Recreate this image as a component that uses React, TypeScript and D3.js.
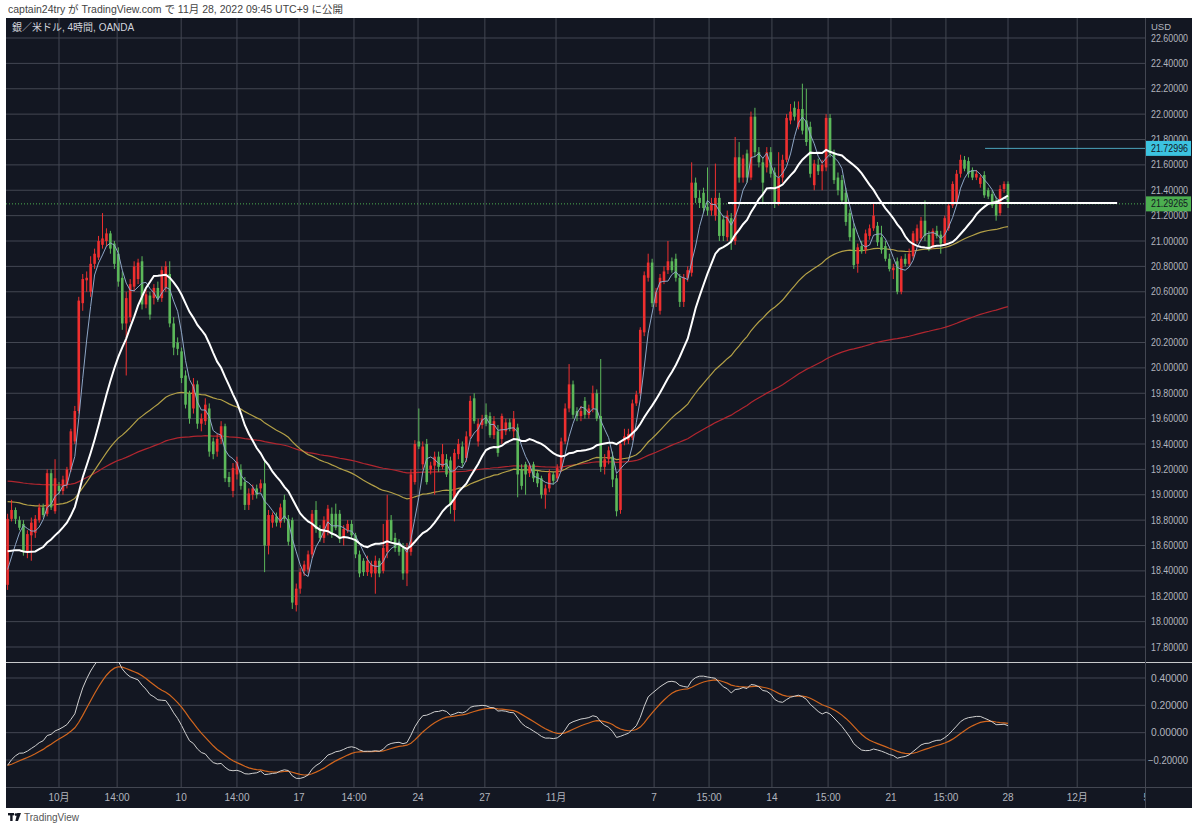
import React from "react";
import * as d3 from "d3";

// ---- DATA ----
// 4-hour candles, XAG/USD (OANDA): [open, high, low, close]
const candles: [number, number, number, number][] = [
  [18.29, 18.85, 18.25, 18.81], [18.81, 18.96, 18.79, 18.88], [18.88, 18.9, 18.77, 18.81], [18.8, 18.83, 18.72, 18.74],
  [18.77, 18.8, 18.52, 18.55], [18.55, 18.72, 18.5, 18.69], [18.68, 18.82, 18.48, 18.78], [18.7, 18.84, 18.66, 18.81],
  [18.8, 18.93, 18.78, 18.9], [18.9, 18.93, 18.82, 18.84], [18.85, 19.2, 18.83, 19.17], [19.17, 19.2, 18.88, 18.9],
  [18.87, 19.28, 18.85, 19.13], [19.07, 19.1, 19.0, 19.03], [19.03, 19.15, 19.0, 19.12], [19.08, 19.22, 19.05, 19.2],
  [19.2, 19.52, 19.18, 19.5], [19.42, 19.7, 19.4, 19.66], [19.66, 20.56, 19.64, 20.53], [20.51, 20.74, 20.45, 20.7],
  [20.69, 20.76, 20.6, 20.71], [20.6, 20.88, 20.56, 20.82], [20.82, 20.94, 20.78, 20.9], [20.87, 21.04, 20.85, 21.0],
  [20.97, 21.22, 20.94, 21.02], [21.0, 21.1, 20.96, 21.06], [21.06, 21.08, 20.9, 20.94], [20.98, 21.0, 20.78, 20.82],
  [20.9, 20.95, 20.64, 20.68], [20.71, 20.76, 20.3, 20.35], [20.35, 20.6, 19.94, 20.55], [20.4, 20.7, 20.36, 20.66],
  [20.64, 20.84, 20.6, 20.8], [20.7, 20.86, 20.66, 20.83], [20.84, 20.88, 20.46, 20.5], [20.5, 20.62, 20.47, 20.58],
  [20.57, 20.6, 20.38, 20.42], [20.55, 20.66, 20.5, 20.63], [20.63, 20.68, 20.52, 20.55], [20.55, 20.8, 20.52, 20.77],
  [20.63, 20.84, 20.6, 20.8], [20.74, 20.84, 20.32, 20.35], [20.35, 20.4, 20.1, 20.16], [20.2, 20.24, 20.1, 20.15],
  [20.13, 20.16, 19.88, 19.92], [19.94, 19.98, 19.68, 19.71], [19.8, 19.82, 19.56, 19.6], [19.68, 19.92, 19.64, 19.87],
  [19.87, 19.9, 19.52, 19.56], [19.56, 19.64, 19.5, 19.6], [19.58, 19.76, 19.55, 19.71], [19.68, 19.72, 19.3, 19.34],
  [19.42, 19.45, 19.28, 19.32], [19.34, 19.48, 19.3, 19.44], [19.44, 19.58, 19.4, 19.54], [19.54, 19.56, 19.1, 19.13],
  [19.14, 19.18, 19.06, 19.1], [19.03, 19.25, 18.98, 19.21], [19.16, 19.3, 19.12, 19.26], [19.2, 19.24, 19.04, 19.07],
  [19.1, 19.14, 18.88, 18.92], [18.92, 19.05, 18.88, 19.01], [19.0, 19.08, 18.96, 19.05], [19.05, 19.08, 18.97, 19.0],
  [19.05, 19.12, 19.02, 19.09], [19.09, 19.28, 18.39, 18.6], [18.6, 18.88, 18.53, 18.84], [18.78, 18.86, 18.74, 18.84],
  [18.83, 18.86, 18.75, 18.78], [18.78, 18.93, 18.74, 18.9], [18.96, 19.0, 18.78, 18.81], [18.81, 18.84, 18.6, 18.63],
  [18.8, 18.82, 18.1, 18.15], [18.13, 18.3, 18.08, 18.26], [18.26, 18.42, 18.22, 18.39], [18.4, 18.48, 18.36, 18.45],
  [18.41, 18.56, 18.38, 18.53], [18.53, 18.88, 18.5, 18.85], [18.88, 18.95, 18.7, 18.73], [18.73, 18.76, 18.63, 18.66],
  [18.66, 18.83, 18.62, 18.8], [18.71, 18.92, 18.68, 18.89], [18.85, 18.9, 18.66, 18.69], [18.85, 18.93, 18.72, 18.74],
  [18.85, 18.88, 18.62, 18.65], [18.66, 18.76, 18.6, 18.73], [18.72, 18.8, 18.7, 18.77], [18.77, 18.8, 18.66, 18.68],
  [18.68, 18.7, 18.5, 18.53], [18.53, 18.56, 18.35, 18.38], [18.48, 18.5, 18.36, 18.39], [18.39, 18.52, 18.36, 18.48],
  [18.38, 18.48, 18.35, 18.45], [18.38, 18.52, 18.22, 18.48], [18.48, 18.5, 18.35, 18.38], [18.4, 18.77, 18.38, 18.58],
  [18.55, 19.0, 18.5, 18.8], [18.8, 18.84, 18.62, 18.64], [18.66, 18.7, 18.55, 18.58], [18.62, 18.65, 18.52, 18.55],
  [18.58, 18.62, 18.33, 18.38], [18.38, 18.62, 18.28, 18.58], [18.55, 19.2, 18.52, 19.16], [19.1, 19.43, 19.08, 19.4],
  [19.42, 19.68, 19.36, 19.38], [19.24, 19.42, 19.2, 19.38], [19.4, 19.44, 19.08, 19.1], [19.2, 19.26, 19.16, 19.23],
  [19.23, 19.34, 19.0, 19.3], [19.3, 19.34, 19.18, 19.22], [19.22, 19.4, 19.2, 19.32], [19.28, 19.32, 19.14, 19.16],
  [19.27, 19.3, 18.85, 18.92], [18.88, 19.36, 18.79, 19.33], [19.32, 19.44, 19.28, 19.4], [19.38, 19.42, 19.22, 19.25],
  [19.29, 19.5, 19.26, 19.46], [19.46, 19.78, 19.44, 19.74], [19.76, 19.8, 19.56, 19.58], [19.42, 19.6, 19.38, 19.56],
  [19.55, 19.63, 19.52, 19.6], [19.63, 19.72, 19.54, 19.56], [19.62, 19.65, 19.45, 19.47], [19.47, 19.62, 19.44, 19.58],
  [19.5, 19.55, 19.3, 19.33], [19.44, 19.64, 19.4, 19.62], [19.5, 19.6, 19.47, 19.57], [19.57, 19.6, 19.5, 19.52],
  [19.5, 19.66, 19.45, 19.6], [19.53, 19.56, 18.98, 19.16], [19.2, 19.24, 19.04, 19.07], [19.24, 19.26, 19.0, 19.16],
  [19.17, 19.25, 19.14, 19.22], [19.24, 19.26, 19.1, 19.13], [19.17, 19.19, 19.06, 19.09], [19.13, 19.15, 18.97, 19.0],
  [19.0, 19.08, 18.89, 19.05], [19.05, 19.2, 19.02, 19.17], [19.16, 19.18, 19.08, 19.11], [19.13, 19.24, 19.1, 19.21],
  [19.2, 19.45, 19.18, 19.42], [19.42, 19.72, 19.4, 19.68], [19.68, 20.03, 19.65, 19.87], [19.87, 19.9, 19.6, 19.63],
  [19.66, 19.69, 19.58, 19.62], [19.62, 19.7, 19.58, 19.66], [19.74, 19.77, 19.6, 19.63], [19.63, 19.71, 19.6, 19.68],
  [19.68, 19.86, 19.65, 19.8], [19.8, 19.83, 19.58, 19.6], [19.62, 20.07, 19.18, 19.22], [19.22, 19.32, 19.16, 19.28],
  [19.28, 19.38, 19.24, 19.35], [19.3, 19.34, 19.06, 19.12], [19.13, 19.16, 18.83, 18.87], [18.88, 19.42, 18.85, 19.4],
  [19.42, 19.52, 19.39, 19.46], [19.43, 19.52, 19.4, 19.48], [19.45, 19.75, 19.43, 19.72], [19.72, 19.82, 19.7, 19.79],
  [19.8, 20.32, 19.78, 20.3], [20.28, 20.76, 20.25, 20.73], [20.71, 20.9, 20.68, 20.83], [20.83, 20.86, 20.48, 20.51],
  [20.51, 20.63, 20.48, 20.6], [20.45, 20.74, 20.42, 20.71], [20.68, 20.8, 20.66, 20.76], [20.77, 21.0, 20.74, 20.84],
  [20.84, 20.87, 20.75, 20.77], [20.86, 20.9, 20.68, 20.71], [20.71, 20.74, 20.48, 20.52], [20.52, 20.74, 20.48, 20.71],
  [20.71, 20.8, 20.68, 20.77], [20.75, 21.62, 20.72, 21.46], [21.46, 21.5, 21.3, 21.34], [21.34, 21.4, 21.26, 21.3],
  [21.38, 21.42, 21.22, 21.26], [21.27, 21.58, 21.2, 21.24], [21.24, 21.34, 21.2, 21.3], [21.2, 21.61, 21.16, 21.34],
  [21.34, 21.38, 21.0, 21.04], [21.17, 21.2, 21.0, 21.04], [21.03, 21.24, 21.0, 21.2], [21.18, 21.22, 20.93, 21.0],
  [21.0, 21.82, 20.97, 21.66], [21.66, 21.78, 21.46, 21.5], [21.5, 21.68, 21.46, 21.65], [21.69, 21.72, 21.46, 21.5],
  [21.5, 22.02, 21.48, 21.98], [21.98, 22.05, 21.66, 21.7], [21.7, 21.74, 21.58, 21.62], [21.62, 21.66, 21.3, 21.46],
  [21.58, 21.74, 21.54, 21.7], [21.7, 21.74, 21.5, 21.53], [21.54, 21.58, 21.26, 21.3], [21.3, 21.7, 21.28, 21.5],
  [21.5, 21.68, 21.46, 21.64], [21.64, 22.0, 21.62, 21.97], [21.95, 22.08, 21.92, 22.02], [22.05, 22.1, 21.95, 21.98],
  [21.9, 22.1, 21.88, 22.04], [22.04, 22.24, 21.84, 21.87], [21.95, 22.2, 21.75, 21.78], [21.9, 21.94, 21.5, 21.53],
  [21.44, 21.64, 21.4, 21.61], [21.6, 21.65, 21.52, 21.55], [21.55, 21.64, 21.4, 21.6], [21.58, 22.0, 21.55, 21.97],
  [21.97, 22.0, 21.66, 21.69], [21.69, 21.72, 21.45, 21.48], [21.5, 21.54, 21.36, 21.4], [21.48, 21.52, 21.3, 21.32],
  [21.38, 21.42, 21.12, 21.15], [21.22, 21.25, 21.0, 21.03], [21.1, 21.14, 20.78, 20.81], [20.82, 20.98, 20.75, 20.95],
  [20.96, 21.0, 20.9, 20.92], [20.93, 21.09, 20.9, 21.06], [21.04, 21.13, 21.01, 21.1], [21.1, 21.3, 21.08, 21.2],
  [21.12, 21.15, 20.96, 20.99], [21.03, 21.12, 20.9, 20.93], [20.96, 21.0, 20.84, 20.86], [20.86, 20.9, 20.76, 20.78],
  [20.77, 20.82, 20.7, 20.79], [20.84, 20.87, 20.58, 20.6], [20.6, 20.88, 20.58, 20.86], [20.86, 20.9, 20.8, 20.82],
  [20.82, 20.94, 20.8, 20.9], [20.88, 21.08, 20.86, 21.06], [21.0, 21.13, 20.98, 21.1], [21.02, 21.19, 21.0, 21.16],
  [21.16, 21.32, 21.0, 21.04], [21.05, 21.08, 20.92, 20.95], [20.96, 21.1, 20.94, 21.08], [21.08, 21.12, 21.02, 21.04],
  [21.05, 21.08, 20.9, 20.98], [20.98, 21.2, 20.96, 21.18], [21.1, 21.3, 21.08, 21.28], [21.28, 21.47, 21.26, 21.45],
  [21.3, 21.56, 21.28, 21.53], [21.53, 21.68, 21.5, 21.64], [21.64, 21.67, 21.55, 21.57], [21.63, 21.66, 21.5, 21.53],
  [21.56, 21.58, 21.48, 21.5], [21.5, 21.56, 21.48, 21.53], [21.45, 21.52, 21.42, 21.5], [21.52, 21.55, 21.34, 21.36],
  [21.4, 21.42, 21.33, 21.35], [21.37, 21.4, 21.26, 21.28], [21.32, 21.35, 21.16, 21.2], [21.22, 21.44, 21.2, 21.41],
  [21.41, 21.47, 21.38, 21.45], [21.45, 21.47, 21.26, 21.29265],
];

// closes of the bars just before the visible window (needed to start the SMAs)
const priorCloses = [18.78, 18.72, 18.76, 18.74, 18.79, 18.73, 18.75, 18.55, 18.5, 18.46,
  18.42, 18.48, 18.45, 18.44, 18.46, 18.38, 18.32, 18.28, 18.26];

// indicator settings and starting values read at the left edge
const smaFastLen = 5;
const smaMidLen = 20;
const emaSlowLen = 75;
const emaSlowSeed = 18.95;
const emaLongLen = 200;
const emaLongSeed = 19.11;
const macdFastSeed = 18.55;
const macdSlowSeed = 18.83;
const macdSignalSeed = -0.24;

const priceTicks = [17.8, 18.0, 18.2, 18.4, 18.6, 18.8, 19.0, 19.2, 19.4, 19.6, 19.8, 20.0, 20.2, 20.4,
  20.6, 20.8, 21.0, 21.2, 21.4, 21.6, 21.8, 22.0, 22.2, 22.4, 22.6];
const macdTicks = [-0.2, 0.0, 0.2, 0.4];
const timeTickLabels = ["10月", "14:00", "10", "14:00", "17", "14:00", "24", "27", "11月", "7", "15:00",
  "14", "15:00", "21", "15:00", "28", "12月", "5"];
const timeTickBars = [13, 27.7, 43.9, 58, 73.7, 87.6, 103.8, 120.7, 138.7, 163.5, 177.4, 193.3, 207.5,
  223.4, 237.3, 253, 270.5, 288];

const drawnLevel = { price: 21.3, fromBar: 182.2, toBar: 280.6 };
const alertLevel = { price: 21.72996, fromBar: 247.2 };

// ---- STYLE ----
const BG = "#131722";
const GRID = "#434752";
const AXIS_TEXT = "#b2b5be";
const UP = "#ee2f2f";
const DOWN = "#5cb85a";
const FONT = "'Liberation Sans', 'Noto Sans CJK JP', sans-serif";

const L = 6, R = 1192, TOP = 18, PANE_R = 1145, SEP = 662.5, LOW_B = 787, BOT = 808;

function sma(all: number[], offset: number, n: number, count: number) {
  const out: number[] = [];
  for (let i = 0; i < count; i++) {
    const end = offset + i;
    const win = all.slice(end - n + 1, end + 1);
    out.push(d3.mean(win) as number);
  }
  return out;
}
function ema(values: number[], n: number, seed: number) {
  const k = 2 / (n + 1);
  let e = seed;
  return values.map((v) => (e = e + (v - e) * k));
}

export default function App() {
  const closes = candles.map((c) => c[3]);
  const all = [...priorCloses, ...closes];
  const off = priorCloses.length;
  const fast = sma(all, off, smaFastLen, closes.length);
  const mid = sma(all, off, smaMidLen, closes.length);
  const slow = ema(closes, emaSlowLen, emaSlowSeed);
  const long = ema(closes, emaLongLen, emaLongSeed);
  const e12 = ema(closes, 12, macdFastSeed);
  const e26 = ema(closes, 26, macdSlowSeed);
  const macd = e12.map((v, i) => v - e26[i]);
  const signal = ema(macd, 9, macdSignalSeed);

  const x = d3.scaleLinear().domain([0, 253]).range([7.6, 1008]);
  const y = d3.scaleLinear().domain([17.8, 22.6]).range([647, 38]);
  const ym = d3.scaleLinear().domain([-0.2, 0.4]).range([760, 678]);

  const lineP = (vals: number[]) =>
    d3.line<number>().x((_, i) => x(i)).y((v) => y(v)).curve(d3.curveLinear)(vals) as string;
  const lineM = (vals: number[]) =>
    d3.line<number>().x((_, i) => x(i)).y((v) => ym(v))(vals) as string;

  const last = closes[closes.length - 1];
  const fmt = d3.format(".5f");

  return (
    <svg width={1200} height={831} style={{ position: "absolute", left: 0, top: 0, background: "#ffffff" }}
      fontFamily={FONT}>
      <defs>
        <clipPath id="mainClip"><rect x={L} y={TOP} width={PANE_R - L} height={SEP - TOP} /></clipPath>
        <clipPath id="lowClip"><rect x={L} y={SEP + 0.5} width={PANE_R - L} height={LOW_B - SEP - 0.5} /></clipPath>
        <clipPath id="timeClip"><rect x={L} y={LOW_B} width={PANE_R - L} height={BOT - LOW_B} /></clipPath>
      </defs>

      {/* header */}
      <text x={8} y={13} fontSize={10.5} fill="#444" fontFamily={FONT}>
        captain24try が TradingView.com で 11月 28, 2022 09:45 UTC+9 に公開
      </text>

      <rect x={L} y={TOP} width={R - L} height={BOT - TOP} fill={BG} />

      {/* grid */}
      {priceTicks.map((p) => (
        <line key={"pg" + p} x1={L} x2={PANE_R} y1={y(p)} y2={y(p)} stroke={GRID} strokeWidth={1} />
      ))}
      {macdTicks.map((p) => (
        <line key={"mg" + p} x1={L} x2={PANE_R} y1={ym(p)} y2={ym(p)} stroke={GRID} strokeWidth={1} />
      ))}
      {timeTickBars.map((b, i) =>
        x(b) < PANE_R ? (
          <line key={"vg" + i} x1={x(b)} x2={x(b)} y1={TOP} y2={LOW_B} stroke={GRID} strokeWidth={1} />
        ) : null
      )}

      {/* title */}
      <text x={12} y={31} fontSize={10} fill="#d1d4dc">銀／米ドル, 4時間, OANDA</text>

      {/* main pane */}
      <g clipPath="url(#mainClip)">
        <line x1={L} x2={PANE_R} y1={y(last)} y2={y(last)} stroke="#4caf50" strokeWidth={1} strokeDasharray="1,2" />
        <line x1={x(alertLevel.fromBar)} x2={PANE_R} y1={y(alertLevel.price)} y2={y(alertLevel.price)}
          stroke="#4aa3bb" strokeWidth={1} />
        <path d={lineP(long)} fill="none" stroke="#b0262f" strokeWidth={1.2} />
        <path d={lineP(slow)} fill="none" stroke="#b3a047" strokeWidth={1.2} />
        {candles.map((c, i) => {
          const [o, h, l, cl] = c;
          const col = cl >= o ? UP : DOWN;
          const xc = x(i);
          const top = y(Math.max(o, cl));
          const hgt = Math.max(1, Math.abs(y(o) - y(cl)));
          return (
            <g key={"c" + i}>
              <line x1={xc} x2={xc} y1={y(h)} y2={y(l)} stroke={col} strokeWidth={1} />
              <rect x={xc - 1.3} y={top} width={2.6} height={hgt} fill={col} />
            </g>
          );
        })}
        <path d={lineP(fast)} fill="none" stroke="#8ea6c6" strokeWidth={1} />
        <path d={lineP(mid)} fill="none" stroke="#ffffff" strokeWidth={2} />
        <line x1={x(drawnLevel.fromBar)} x2={x(drawnLevel.toBar)} y1={y(drawnLevel.price)} y2={y(drawnLevel.price)}
          stroke="#ffffff" strokeWidth={2} />
      </g>

      {/* lower pane (MACD) */}
      <g clipPath="url(#lowClip)">
        <path d={lineM(signal)} fill="none" stroke="#d2661e" strokeWidth={1.2} />
        <path d={lineM(macd)} fill="none" stroke="#d0d0d0" strokeWidth={1} />
      </g>

      {/* separators */}
      <line x1={L} x2={R} y1={SEP} y2={SEP} stroke="#c8c9cc" strokeWidth={1} />
      <line x1={PANE_R + 0.5} x2={PANE_R + 0.5} y1={TOP} y2={BOT} stroke={GRID} strokeWidth={1} />
      <line x1={L} x2={R} y1={LOW_B + 0.5} y2={LOW_B + 0.5} stroke={GRID} strokeWidth={1} />

      {/* price axis */}
      <text x={1151} y={30} fontSize={9.5} fill={AXIS_TEXT}>USD</text>
      {priceTicks.map((p) => (
        <text key={"pt" + p} x={1151} y={y(p)} dy="0.35em" fontSize={10} fill={AXIS_TEXT}
          textLength={37} lengthAdjust="spacingAndGlyphs">
          {fmt(p)}
        </text>
      ))}
      {macdTicks.map((p) => (
        <text key={"mt" + p} x={p < 0 ? 1148 : 1151} y={ym(p)} dy="0.35em" fontSize={10} fill={AXIS_TEXT}
          textLength={p < 0 ? 40 : 37} lengthAdjust="spacingAndGlyphs">
          {fmt(p)}
        </text>
      ))}
      <rect x={PANE_R + 1} y={y(alertLevel.price) - 7.5} width={45} height={15} fill="#3cc3e0" />
      <text x={1151} y={y(alertLevel.price)} dy="0.35em" fontSize={10} fill="#131722"
        textLength={37} lengthAdjust="spacingAndGlyphs">{fmt(alertLevel.price)}</text>
      <rect x={PANE_R + 1} y={y(last) - 7.5} width={45} height={15} fill="#4caf50" />
      <text x={1151} y={y(last)} dy="0.35em" fontSize={10} fill="#131722"
        textLength={37} lengthAdjust="spacingAndGlyphs">{fmt(last)}</text>

      {/* time axis */}
      <g clipPath="url(#timeClip)">
        {timeTickBars.map((b, i) => (
          <text key={"tt" + i} x={x(b)} y={801} textAnchor="middle" fontSize={10} fill={AXIS_TEXT}>
            {timeTickLabels[i]}
          </text>
        ))}
      </g>

      {/* footer logo */}
      <g transform="translate(8,813)">
        <rect x={0} y={0} width={6} height={2.4} fill="#131722" />
        <rect x={2.2} y={0} width={2.4} height={8} fill="#131722" />
        <circle cx={8} cy={1.6} r={1.4} fill="#131722" />
        <path d="M9.2,0 L13,0 L10,8 L7.4,8 Z" fill="#131722" />
      </g>
      <text x={24} y={821} fontSize={10} fill="#555">TradingView</text>
    </svg>
  );
}
